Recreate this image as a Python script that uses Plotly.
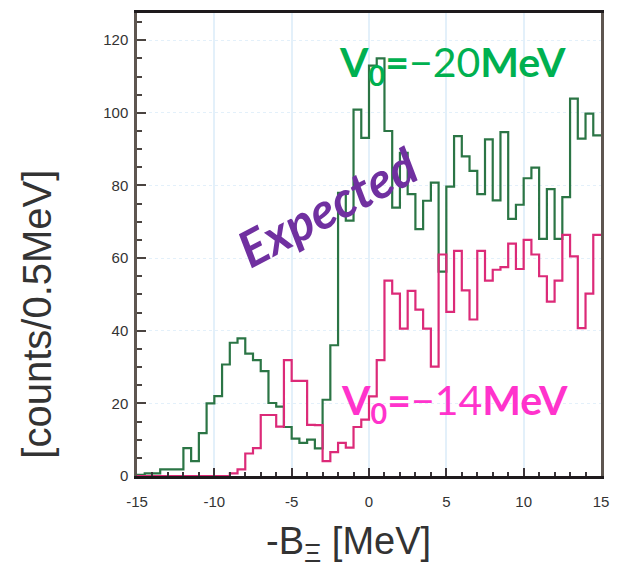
import numpy as np
import plotly.graph_objects as go

# 0.5 MeV bins spanning -15 .. 15 MeV
bin_edges = np.arange(-15.0, 15.0001, 0.5)

# Expected counts per bin, V0 = -20 MeV
counts_v20 = [
    0.3, 0.7, 0.7, 1.8, 1.8, 1.8, 7.7, 4.1, 11.8, 20.0,
    22.0, 30.7, 36.7, 37.9, 33.7, 31.9, 28.9, 20.1, 19.1, 13.5,
    10.3, 9.1, 10.0, 7.6, 21.0, 36.0, 78.0, 70.3, 100.9, 93.1,
    113.0, 115.0, 95.0, 73.9, 89.0, 77.6, 68.0, 75.8, 80.8, 56.3,
    79.7, 93.6, 88.0, 84.0, 77.6, 92.7, 75.9, 94.7, 70.8, 74.7,
    82.0, 84.9, 65.3, 79.0, 65.3, 76.8, 103.9, 92.9, 99.8, 93.8,
]

# Expected counts per bin, V0 = -14 MeV
counts_v14 = [
    0, 0, 0, 0, 0, 0, 0, 0, 0, 0,
    0, 0, 0.7, 1.8, 6.2, 7.7, 16.8, 16.8, 13.6, 31.9,
    26.2, 26.2, 14.1, 14.0, 4.1, 6.6, 9.1, 7.8, 13.5, 15.5,
    21.9, 31.9, 53.8, 50.2, 40.6, 51.0, 45.8, 40.6, 30.1, 61.0,
    45.2, 62.0, 51.1, 43.1, 62.0, 53.8, 56.8, 57.5, 64.0, 57.0,
    65.0, 61.0, 55.0, 48.0, 53.8, 66.4, 60.5, 40.7, 50.2, 66.4,
]

x_ticks = [-15, -10, -5, 0, 5, 10, 15]
y_ticks = [0, 20, 40, 60, 80, 100, 120]

GREEN_LINE = "#2b7545"
PINK_LINE = "#dc2a78"


def step_y(values):
    return list(values) + [values[-1]]


fig = go.Figure()
fig.add_trace(go.Scatter(
    x=bin_edges, y=step_y(counts_v20), mode="lines", line_shape="hv",
    line=dict(color=GREEN_LINE, width=2.2), hoverinfo="skip", showlegend=False,
))
fig.add_trace(go.Scatter(
    x=bin_edges, y=step_y(counts_v14), mode="lines", line_shape="hv",
    line=dict(color=PINK_LINE, width=2.2), hoverinfo="skip", showlegend=False,
))

tick_font = dict(family="Liberation Sans, Arial, sans-serif", size=15, color="#333333")

fig.update_xaxes(
    range=[-15, 15], tickvals=x_ticks, ticktext=[str(v) for v in x_ticks],
    ticks="inside", ticklen=8, tickwidth=2, tickcolor="#3a3438",
    minor=dict(dtick=1, ticks="inside", ticklen=4, tickwidth=1.5, tickcolor="#3a3438",
               showgrid=False),
    showgrid=True, gridcolor="#e3f0fa", gridwidth=1.5,
    showline=True, linecolor="#1e1a1c", linewidth=2.5, mirror=True,
    zeroline=False, tickfont=tick_font, ticklabelstandoff=10,
)
fig.update_yaxes(
    range=[0, 127.5], tickvals=y_ticks,
    ticks="inside", ticklen=9, tickwidth=2, tickcolor="#4a4440",
    minor=dict(dtick=5, ticks="inside", ticklen=5, tickwidth=2, tickcolor="#4a4440",
               showgrid=False),
    showgrid=True, gridcolor="#e3f0fa", gridwidth=1.2, griddash="dot",
    showline=True, linecolor="#5e5650", linewidth=2.5, mirror=True,
    zeroline=False, tickfont=tick_font, ticklabelstandoff=3,
)

label_font = "Lato, Noto Sans, sans-serif"
title_font = "Liberation Sans, Arial, sans-serif"

# plot area in pixels: x 137..604, y 10..476
def px_x(p):
    return (p - 137) / (604 - 137)


def px_y(p):
    return 1 - (p - 10) / (476 - 10)


annotations = [
    dict(x=px_x(455), y=px_y(62),
         text="<b>V<sub>0</sub>=</b>−20<b>MeV</b>",
         font=dict(family=label_font, size=41, color="#00b050")),
    dict(x=px_x(457), y=px_y(402),
         text="<b>V<sub>0</sub>=</b>−14<b>MeV</b>",
         font=dict(family=label_font, size=41, color="#ff33cc")),
    dict(x=px_x(328), y=px_y(205),
         text="<b><i>Expected</i></b>", textangle=-28,
         font=dict(family=label_font, size=50, color="#7030a0")),
    dict(x=px_x(350), y=px_y(544),
         text="-B<sub>Ξ</sub> [MeV]",
         font=dict(family=title_font, size=38, color="#333333")),
    dict(x=px_x(36), y=px_y(313),
         text="[counts/0.5MeV]", textangle=-90,
         font=dict(family=title_font, size=40, color="#333333")),
]
for a in annotations:
    fig.add_annotation(xref="paper", yref="paper", showarrow=False,
                       xanchor="center", yanchor="middle", **a)

fig.update_layout(
    width=619, height=571,
    margin=dict(l=137, r=15, t=10, b=95),
    paper_bgcolor="white", plot_bgcolor="white",
    showlegend=False,
)

fig.write_html("out.html")
